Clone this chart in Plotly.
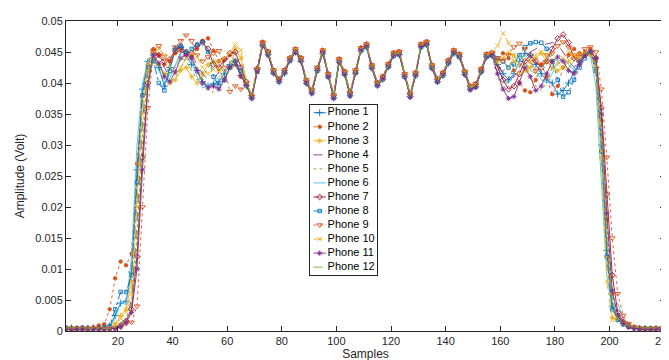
import plotly.graph_objects as go

# Sample index (x) : every second sample from 1 to 219
SAMPLES = list(range(1, 220, 2))

# Amplitudes in millivolt (segments: 1-15 | 17-31 | 33-65 | 67-157 | 159-191 | 193-203 | 205-219)
PHONE_1 = [0.4, 0.5, 0.4, 0.3, 0.4, 0.5, 0.4, 0.5,
           0.8, 2.5, 4.5, 4.8, 9.5, 26, 39, 43.5,
           44.5, 42.5, 39.5, 42.5, 45.5, 45.8, 44.5, 43, 42, 40.2, 39.5, 39.8, 40.2, 41.5, 43, 43.5, 41.2,
           39.6, 37.6, 42.2, 46.1, 44.6, 41.6, 40.2, 41.6, 43.6, 45.0, 43.5, 40.0, 38.4, 42.0, 44.8, 41.0, 37.6, 43.4, 41.4, 38.0, 41.6, 45.2, 45.8, 42.4, 39.6, 40.6, 42.6, 44.4, 44.6, 41.0, 37.8, 41.2, 45.8, 46.2, 42.4, 40.2, 41.2, 43.2, 44.8, 44.2, 41.4, 39.0, 39.4, 41.8, 44.2, 44.4,
           43, 41.5, 40.5, 41.5, 43.5, 44.8, 44.5, 43, 41.5, 40.5, 40, 38.2, 38.8, 40, 41.8, 43.5, 44.5,
           45, 42.5, 30, 13, 4, 2,
           1.2, 0.8, 0.5, 0.4, 0.4, 0.3, 0.4, 0.4]
PHONE_2 = [0.4, 0.3, 0.4, 0.5, 0.4, 0.6, 0.9, 1.1,
           3.5, 8.5, 11.2, 10.6, 12.5, 27, 38, 43,
           45.5, 44.5, 43, 43.5, 44.8, 45.2, 44.5, 44.3, 45.5, 46.8, 47.2, 45.2, 43.5, 43.8, 44.5, 43.5, 41,
           40.0, 38.0, 42.2, 46.5, 45.0, 42.0, 40.6, 42.0, 44.0, 45.4, 44.0, 40.4, 38.8, 42.4, 45.2, 41.4, 38.0, 43.8, 41.8, 38.4, 42.0, 45.6, 46.2, 42.8, 40.0, 41.0, 43.0, 44.8, 45.0, 41.4, 38.2, 41.6, 46.2, 46.6, 42.8, 40.6, 41.6, 43.6, 45.2, 44.6, 41.8, 39.4, 39.8, 42.2, 44.6, 44.8,
           43.8, 44.8, 44, 42, 40, 38.8, 38.5, 40.5, 43, 41, 38.2, 39.5, 42.5, 44.5, 45.5, 44.8, 45,
           45.5, 44, 34, 18, 6, 2.5,
           1.5, 0.9, 0.6, 0.5, 0.4, 0.4, 0.4, 0.4]
PHONE_3 = [0.3, 0.4, 0.4, 0.4, 0.3, 0.4, 0.4, 0.5,
           0.6, 1.2, 2.5, 3.5, 8, 22, 37, 43,
           44, 43, 41.5, 40, 40.5, 42, 42.5, 41, 40, 41.5, 43, 43.5, 42, 40.5, 42.5, 45.5, 44,
           39.7, 37.9, 41.8, 46.2, 44.9, 41.9, 40.3, 41.7, 43.9, 45.3, 43.7, 40.1, 38.7, 42.3, 45.1, 41.1, 37.9, 43.5, 41.7, 38.3, 41.7, 45.3, 46.1, 42.5, 39.9, 40.7, 42.9, 44.5, 44.9, 41.1, 38.1, 41.3, 46.1, 46.3, 42.7, 40.3, 41.5, 43.3, 45.1, 44.3, 41.7, 39.1, 39.7, 41.9, 44.5, 44.5,
           43.5, 44, 44.8, 44.5, 43, 42, 42.5, 44, 44.8, 43.5, 42.5, 42, 42.5, 43.5, 44.2, 44.5, 44.8,
           44.5, 42, 28, 12, 2.2, 1.8,
           1.2, 0.8, 0.5, 0.4, 0.4, 0.4, 0.3, 0.4]
PHONE_4 = [0.4, 0.4, 0.4, 0.4, 0.4, 0.4, 0.4, 0.4,
           0.5, 0.6, 1.2, 2, 5, 18, 34, 42.5,
           43.5, 44.5, 42.5, 41, 42.8, 44.8, 45.3, 44.5, 43, 41.5, 40.5, 40.5, 41.8, 43.6, 44.2, 43.5, 41.5,
           39.9, 37.7, 42.1, 46.3, 44.7, 41.8, 40.5, 41.9, 43.8, 45.1, 43.9, 40.3, 38.5, 42.1, 45.0, 41.3, 37.7, 43.6, 41.5, 38.1, 41.9, 45.4, 45.9, 42.6, 39.7, 40.9, 42.8, 44.7, 44.8, 41.3, 37.9, 41.5, 46.0, 46.5, 42.5, 40.4, 41.4, 43.5, 44.9, 44.4, 41.5, 39.3, 39.5, 42.1, 44.3, 44.7,
           43, 41.5, 40.5, 41, 42.5, 44, 45, 45.5, 46, 46.3, 46.5, 46.2, 45, 43.5, 42.5, 43.5, 44.8,
           45, 43, 31, 14, 4.5, 2,
           1.2, 0.7, 0.5, 0.4, 0.4, 0.4, 0.4, 0.4]
PHONE_5 = [0.4, 0.5, 0.6, 0.4, 0.4, 0.5, 0.5, 0.4,
           0.4, 0.6, 1, 1.8, 4, 14, 30, 41,
           44.2, 43, 41.2, 40.2, 40.8, 42.5, 44, 44, 42.3, 40.5, 39, 38.5, 40, 42, 43.5, 43.8, 42,
           39.8, 37.9, 41.9, 46.4, 44.8, 41.7, 40.4, 41.8, 43.7, 45.3, 43.8, 40.2, 38.6, 42.3, 45.1, 41.2, 37.8, 43.7, 41.6, 38.2, 41.8, 45.5, 46.1, 42.6, 39.8, 40.8, 42.7, 44.6, 44.9, 41.2, 38.0, 41.4, 46.1, 46.4, 42.6, 40.5, 41.4, 43.4, 45.0, 44.5, 41.6, 39.2, 39.6, 42.0, 44.4, 44.6,
           41, 39, 40.5, 43, 44.5, 43.5, 41, 39.5, 38.8, 40, 42.5, 44, 43.5, 42, 41.5, 43, 44.5,
           45, 43.5, 33, 16, 5, 2,
           1.3, 0.9, 0.6, 0.5, 0.6, 0.5, 0.5, 0.6]
PHONE_6 = [0.4, 0.4, 0.4, 0.4, 0.4, 0.4, 0.4, 0.5,
           0.7, 2, 4.8, 4.2, 12, 30, 40, 43.5,
           43.8, 42, 40.2, 40.8, 43, 45, 45, 43.5, 41, 39.2, 39.5, 40.2, 41, 41.8, 42.5, 43, 41.5,
           39.5, 37.8, 42.0, 46.2, 44.8, 41.8, 40.3, 41.8, 43.8, 45.2, 43.7, 40.1, 38.6, 42.2, 45.0, 41.2, 37.9, 43.6, 41.6, 38.2, 41.8, 45.4, 46.0, 42.6, 39.8, 40.8, 42.8, 44.6, 44.8, 41.2, 38.0, 41.4, 46.0, 46.4, 42.6, 40.4, 41.4, 43.4, 45.0, 44.4, 41.6, 39.2, 39.6, 42.0, 44.4, 44.6,
           42.5, 40.5, 40, 41.5, 43.5, 44.5, 43.5, 42, 40.5, 40, 41.5, 43.5, 44, 43, 42, 43, 44.5,
           44.5, 39.5, 24, 9, 3.5, 4.5,
           2, 1, 0.6, 0.4, 0.4, 0.4, 0.4, 0.4]
PHONE_7 = [0.4, 0.4, 0.3, 0.4, 0.4, 0.4, 0.4, 0.4,
           0.4, 0.5, 0.9, 1.6, 3.5, 12, 28, 40,
           45, 44.5, 43.5, 43.8, 45.2, 45.8, 45, 44.8, 46, 46.6, 45.5, 43, 42.5, 43.8, 44.8, 45, 42.5,
           40.2, 38.0, 42.3, 46.5, 45.0, 42.0, 40.6, 42.0, 44.0, 45.4, 44.0, 40.4, 38.8, 42.4, 45.2, 41.4, 38.0, 43.8, 41.8, 38.4, 42.0, 45.6, 46.2, 42.8, 40.0, 41.0, 43.0, 44.8, 45.0, 41.4, 38.2, 41.6, 46.2, 46.6, 42.8, 40.6, 41.6, 43.6, 45.2, 44.6, 41.8, 39.4, 39.8, 42.2, 44.6, 44.8,
           42.5, 40.5, 39, 39.5, 41.5, 43.5, 44.5, 43.5, 42.5, 43.5, 45.5, 47.2, 47.8, 46.5, 44, 43.5, 44.5,
           45, 44, 36, 22, 9, 3,
           1.5, 0.8, 0.5, 0.4, 0.3, 0.3, 0.3, 0.3]
PHONE_8 = [0.5, 0.4, 0.4, 0.5, 0.4, 0.4, 0.5, 0.6,
           0.8, 3.5, 6.3, 6.3, 9, 24, 38, 42.5,
           43.5, 40, 38.8, 42, 45.5, 46, 45, 45.5, 46.2, 46.6, 45, 41, 39.6, 40.5, 42.5, 43.5, 42,
           39.6, 37.6, 41.8, 46.1, 44.6, 41.6, 40.2, 41.6, 43.6, 45.0, 43.6, 40.0, 38.4, 42.0, 44.8, 41.0, 37.6, 43.4, 41.4, 38.0, 41.6, 45.2, 45.8, 42.4, 39.6, 40.6, 42.6, 44.4, 44.6, 41.0, 37.8, 41.2, 45.8, 46.2, 42.4, 40.2, 41.2, 43.2, 44.8, 44.2, 41.4, 39.0, 39.4, 41.8, 44.2, 44.4,
           44, 43.5, 42.5, 43, 44.5, 45.8, 46.4, 46.6, 46.5, 45.5, 43.5, 40.5, 37.8, 38.5, 40.5, 42.5, 44,
           45, 42, 29, 12, 3.5, 1.8,
           1.1, 0.7, 0.5, 0.4, 0.4, 0.4, 0.4, 0.4]
PHONE_9 = [0.4, 0.4, 0.4, 0.4, 0.4, 0.4, 0.4, 0.4,
           0.4, 0.4, 0.6, 1.2, 1.4, 4, 20, 36,
           45.2, 46, 44.3, 43.5, 45.8, 46.8, 47.7, 46.8, 44.5, 43.5, 44.2, 44.8, 45.2, 42.5, 38.6, 39.5, 39,
           40.0, 37.8, 42.3, 46.6, 45.1, 42.1, 40.7, 42.1, 44.1, 45.5, 44.1, 40.5, 38.9, 42.5, 45.3, 41.5, 38.1, 43.9, 41.9, 38.5, 42.1, 45.7, 46.3, 42.9, 40.1, 41.1, 43.1, 44.9, 45.1, 41.5, 38.3, 41.7, 46.3, 46.7, 42.9, 40.7, 41.7, 43.7, 45.3, 44.7, 41.9, 39.5, 39.9, 42.3, 44.7, 44.9,
           44, 43.5, 44.5, 45.8, 46.4, 45.5, 43.5, 42, 43, 44.5, 44.8, 46, 46.6, 45.8, 44.5, 44.2, 45.5,
           45.8, 45, 39, 28, 15, 6,
           2.5, 1.2, 0.7, 0.5, 0.4, 0.4, 0.4, 0.4]
PHONE_10 = [0.4, 0.4, 0.4, 0.4, 0.4, 0.5, 0.4, 0.4,
            0.5, 1, 2, 3, 6, 20, 35, 42,
            44.8, 45.5, 44.5, 42.5, 41.5, 42.5, 44, 44.8, 44.2, 42.5, 41.5, 42.2, 43.5, 44, 44.8, 46.2, 45.3,
            40.3, 37.9, 42.0, 46.2, 44.9, 41.9, 40.5, 41.9, 43.9, 45.3, 43.9, 40.3, 38.7, 42.3, 45.1, 41.3, 37.9, 43.7, 41.7, 38.3, 41.9, 45.5, 46.1, 42.7, 39.9, 40.9, 42.9, 44.7, 44.9, 41.3, 38.1, 41.5, 46.1, 46.5, 42.7, 40.5, 41.5, 43.5, 45.1, 44.5, 41.7, 39.3, 39.7, 42.1, 44.5, 45.0,
            46, 48, 46.5, 43.5, 41.5, 42, 43.5, 44.5, 45, 44.5, 43.5, 43, 44, 45, 44.5, 44, 44.8,
            44.5, 42.5, 29, 8, 1.8, 2.2,
            1.2, 0.7, 0.5, 0.4, 0.4, 0.4, 0.4, 0.4]
PHONE_11 = [0.3, 0.3, 0.3, 0.3, 0.3, 0.3, 0.3, 0.3,
            0.3, 0.4, 0.7, 1.3, 3, 10, 26, 39.5,
            44.5, 43.2, 41, 40.2, 41.8, 44, 44.6, 44, 42, 40, 39.2, 39.5, 39, 40.5, 42.5, 43, 41.2,
            39.7, 37.5, 41.9, 46.0, 44.5, 41.6, 40.3, 41.7, 43.7, 45.0, 43.6, 40.0, 38.3, 42.0, 44.9, 41.0, 37.5, 43.4, 41.4, 37.9, 41.6, 45.3, 45.9, 42.4, 39.6, 40.7, 42.7, 44.5, 44.6, 41.0, 37.7, 41.3, 45.9, 46.2, 42.4, 40.2, 41.3, 43.3, 44.9, 44.3, 41.4, 38.9, 39.3, 41.9, 44.3, 44.5,
            41.5, 39, 37.5, 37.8, 40, 42.5, 41, 38.8, 39.5, 41.5, 43.5, 44.2, 43.5, 42, 41.5, 43, 44.5,
            45, 44, 35, 19, 6.5, 2.5,
            1.2, 0.6, 0.4, 0.3, 0.3, 0.3, 0.3, 0.3]
PHONE_12 = [0.5, 0.5, 0.4, 0.5, 0.5, 0.4, 0.5, 0.5,
            0.4, 0.6, 1.1, 2, 4.5, 16, 32, 41.5,
            43.8, 42.5, 41.5, 41.5, 42.5, 44.2, 43.5, 42, 40.5, 41, 42.5, 43.8, 43, 41.5, 41.8, 43.2, 42,
            39.9, 37.8, 42.1, 46.4, 44.9, 41.9, 40.4, 41.9, 43.9, 45.2, 43.9, 40.3, 38.6, 42.3, 45.0, 41.3, 37.8, 43.6, 41.6, 38.2, 41.9, 45.4, 46.0, 42.6, 39.8, 40.8, 42.8, 44.6, 44.8, 41.2, 38.0, 41.4, 46.0, 46.4, 42.6, 40.4, 41.4, 43.4, 45.0, 44.4, 41.6, 39.2, 39.6, 42.0, 44.4, 44.6,
            43, 42, 42.5, 44, 44.5, 43.5, 42, 41.5, 42.5, 43.8, 44.5, 43.5, 42.5, 42.5, 43.5, 44.2, 44.8,
            45, 43, 32, 15, 4.5, 2,
            1.3, 0.8, 0.6, 0.5, 0.5, 0.5, 0.5, 0.5]

SERIES_NAMES = ["Phone 1", "Phone 2", "Phone 3", "Phone 4", "Phone 5", "Phone 6",
                "Phone 7", "Phone 8", "Phone 9", "Phone 10", "Phone 11", "Phone 12"]
SERIES_VALUES = [PHONE_1, PHONE_2, PHONE_3, PHONE_4, PHONE_5, PHONE_6,
                 PHONE_7, PHONE_8, PHONE_9, PHONE_10, PHONE_11, PHONE_12]

Y_TICKS = [0, 0.005, 0.01, 0.015, 0.02, 0.025, 0.03, 0.035, 0.04, 0.045, 0.05]
Y_TICK_LABELS = ["0", "0.005", "0.01", "0.015", "0.02", "0.025", "0.03", "0.035", "0.04", "0.045", "0.05"]
X_TICKS = [20, 40, 60, 80, 100, 120, 140, 160, 180, 200, 220]

# styles (MATLAB default palette)
STYLES = [
    ("#0072BD", "solid", "cross-thin", 5),
    ("#D95319", "dot", "circle", 3.5),
    ("#EDB120", "solid", "asterisk-open", 4.5),
    ("#7E2F8E", "dash", None, 0),
    ("#77AC30", "dot", None, 0),
    ("#4DBEEE", "solid", None, 0),
    ("#A2142F", "solid", "diamond-open", 4.5),
    ("#0072BD", "dashdot", "square-open", 3.5),
    ("#D95319", "dot", "triangle-down-open", 5),
    ("#EDB120", "dashdot", "x-thin-open", 4.5),
    ("#7E2F8E", "solid", "asterisk-open", 4.5),
    ("#77AC30", "dashdot", None, 0),
]

axis_col = "#262626"
font_family = "Liberation Sans, Arial, Helvetica, sans-serif"

fig = go.Figure()
for name, vals, (col, dash, sym, size) in zip(SERIES_NAMES, SERIES_VALUES, STYLES):
    assert len(vals) == len(SAMPLES), (name, len(vals))
    yv = [v / 1000.0 for v in vals]
    kw = dict(x=SAMPLES, y=yv, name=name, showlegend=False,
              line=dict(color=col, width=0.9, dash=dash), xaxis="x", yaxis="y")
    if sym:
        kw["mode"] = "lines+markers"
        kw["marker"] = dict(symbol=sym, size=size, color=col, line=dict(color=col, width=0.9))
    else:
        kw["mode"] = "lines"
    fig.add_trace(go.Scatter(**kw))

# ---- legend box (inset axes x2/y2, one row per series) ----
rows = list(range(1, len(SERIES_NAMES) + 1))
fig.add_trace(go.Scatter(
    x=[0, 10, 10, 0, 0], y=[0.45, 0.45, 12.55, 12.55, 0.45],
    fill="toself", fillcolor="white", mode="lines", line=dict(width=0),
    hoverinfo="skip", showlegend=False, xaxis="x2", yaxis="y2"))
for r, name, (col, dash, sym, size) in zip(rows, SERIES_NAMES, STYLES):
    fig.add_trace(go.Scatter(
        x=[0.55, 2.4], y=[r, r], mode="lines",
        line=dict(color=col, width=0.9, dash=dash),
        hoverinfo="skip", showlegend=False, xaxis="x2", yaxis="y2"))
    if sym:
        fig.add_trace(go.Scatter(
            x=[1.47], y=[r], mode="markers",
            marker=dict(symbol=sym, size=size, color=col, line=dict(color=col, width=0.9)),
            hoverinfo="skip", showlegend=False, xaxis="x2", yaxis="y2"))
fig.add_trace(go.Scatter(
    x=[2.65] * len(rows), y=rows, mode="text", text=SERIES_NAMES,
    textposition="middle right", textfont=dict(size=11, color="#000000", family=font_family),
    hoverinfo="skip", showlegend=False, cliponaxis=False, xaxis="x2", yaxis="y2"))

fig.update_layout(
    width=669, height=360,
    margin=dict(l=58, r=4, t=13, b=37),
    paper_bgcolor="white", plot_bgcolor="rgba(0,0,0,0)",
    font=dict(family=font_family, size=11, color=axis_col),
    showlegend=False,
    xaxis=dict(
        range=[1, 220.3], tickvals=X_TICKS, ticks="inside", ticklen=5, tickcolor=axis_col,
        showline=True, linecolor=axis_col, linewidth=1, mirror="ticks",
        showgrid=False, zeroline=False, ticklabeloverflow="allow",
        title=dict(text="Samples", font=dict(size=12), standoff=0),
        tickfont=dict(size=11), domain=[0, 1], anchor="y",
    ),
    yaxis=dict(
        range=[0, 0.05], tickvals=Y_TICKS, ticktext=Y_TICK_LABELS,
        ticks="inside", ticklen=5, tickcolor=axis_col,
        showline=True, linecolor=axis_col, linewidth=1, mirror="ticks",
        showgrid=False, zeroline=False,
        title=dict(text="Amplitude (Volt)", font=dict(size=12), standoff=8),
        tickfont=dict(size=11), domain=[0, 1], anchor="x",
    ),
    xaxis2=dict(
        domain=[0.407, 0.519], range=[0, 10], anchor="y2",
        showline=True, mirror=True, linecolor=axis_col, linewidth=1,
        showticklabels=False, ticks="", showgrid=False, zeroline=False, fixedrange=True,
    ),
    yaxis2=dict(
        domain=[0.181, 0.729], range=[12.55, 0.45], anchor="x2",
        showline=True, mirror=True, linecolor=axis_col, linewidth=1,
        showticklabels=False, ticks="", showgrid=False, zeroline=False, fixedrange=True,
    ),
)

fig.write_html("out.html")
